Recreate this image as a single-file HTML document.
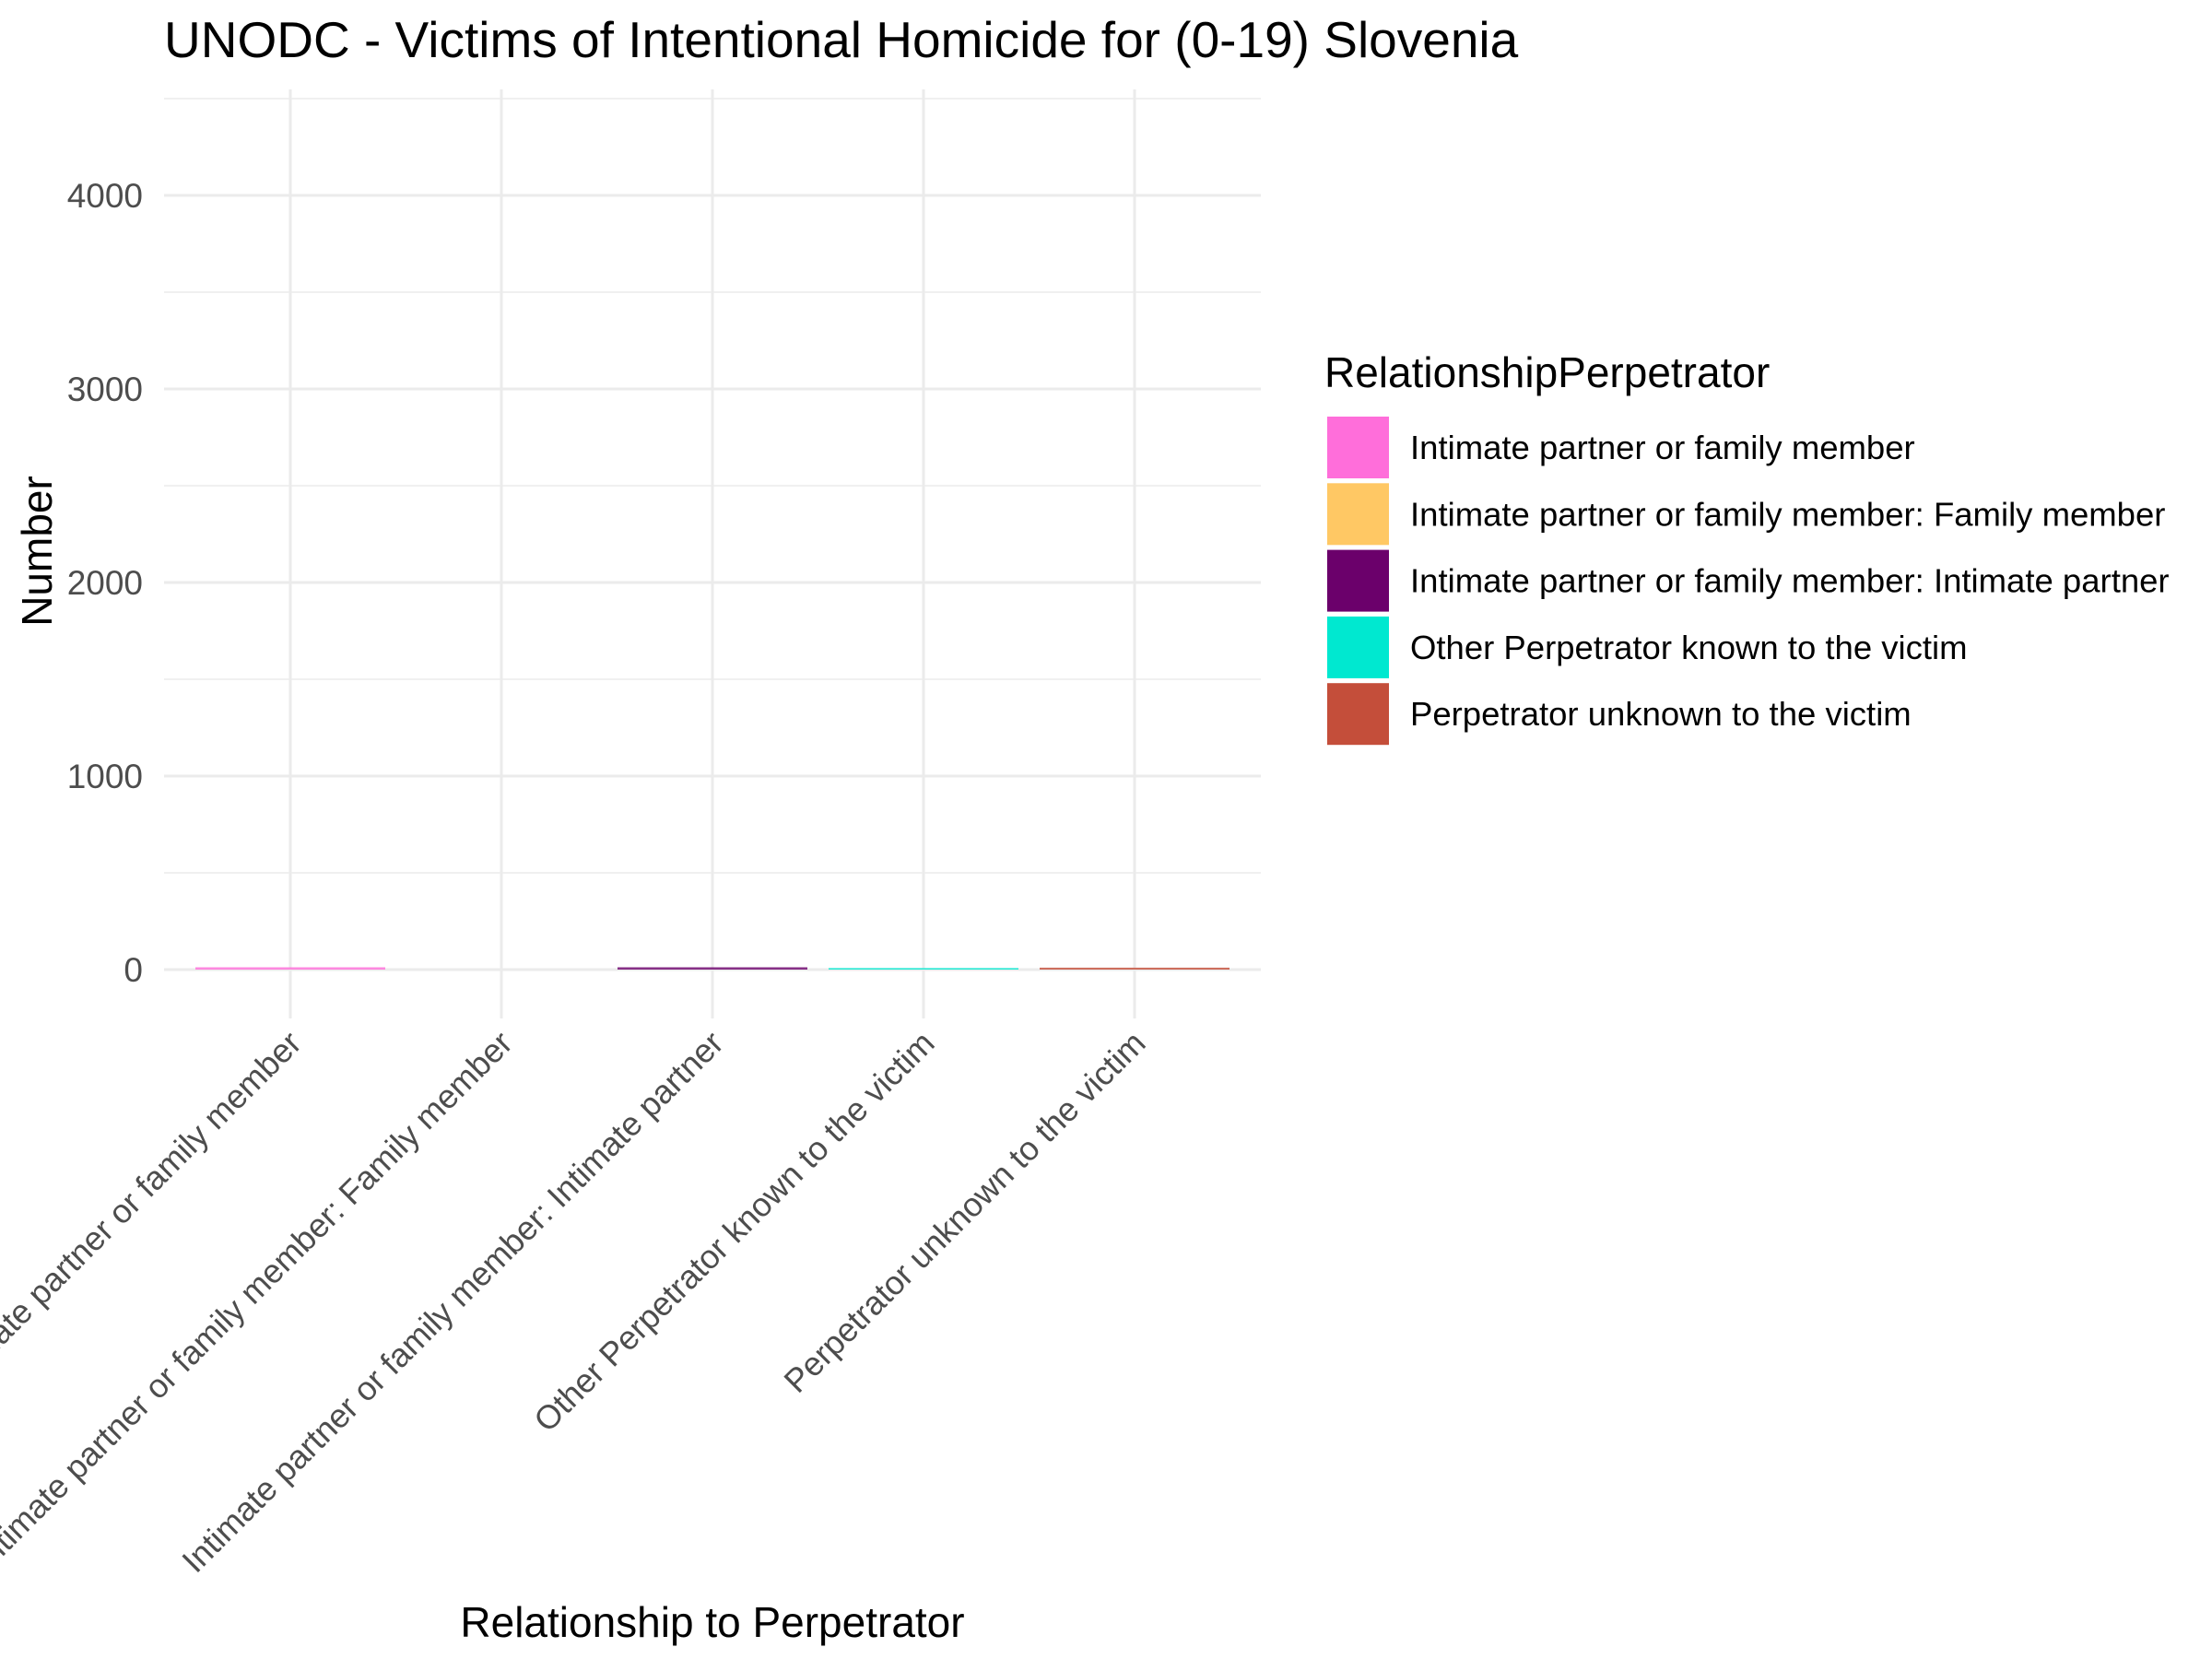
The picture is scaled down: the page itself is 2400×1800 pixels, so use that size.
<!DOCTYPE html>
<html><head><meta charset="utf-8"><style>
html,body{margin:0;padding:0;background:#fff;}
svg{display:block;font-family:"Liberation Sans",Arial,sans-serif;}
</style></head><body>
<svg id="chart" width="2400" height="1800" viewBox="0 0 2400 1800">
<text x="178" y="62" font-size="55" fill="#000">UNODC - Victims of Intentional Homicide for (0-19) Slovenia</text>
<g id="grid"></g>
<g id="bars"></g>
<g id="yticks"></g>
<g id="xticks"></g>
<text transform="translate(56,598) rotate(-90)" text-anchor="middle" font-size="46" fill="#000">Number</text>
<text x="773" y="1776" text-anchor="middle" font-size="46" fill="#000">Relationship to Perpetrator</text>
<g id="legend">
<text x="1437" y="420" font-size="46" fill="#000">RelationshipPerpetrator</text>
</g>
</svg>
<script>
const categories = ["Intimate partner or family member","Intimate partner or family member: Family member","Intimate partner or family member: Intimate partner","Other Perpetrator known to the victim","Perpetrator unknown to the victim"];
const values = [12, 0, 12, 8, 10];
const colors = ["#FF6EDA","#FFC864","#6B006B","#00E8D0","#C44E3A"];
const yTicks = [0, 1000, 2000, 3000, 4000];
const yMinor = [500, 1500, 2500, 3500, 4500];

const NS = "http://www.w3.org/2000/svg";
const plotLeft = 178, plotRight = 1368, plotTop = 97, plotBottom = 1105;
const y0 = 1052, pxPer = 210/1000;
const step = 229, firstX = 315;
function xPos(i){ return firstX + step*i; }
function yPos(v){ return y0 - v*pxPer; }
function mk(tag, attrs, parent){ const e=document.createElementNS(NS,tag); for(const k in attrs) e.setAttribute(k,attrs[k]); parent.appendChild(e); return e; }

const grid = document.getElementById('grid');
yMinor.forEach(v=>{ const l=mk('line',{x1:plotLeft,x2:plotRight,y1:yPos(v),y2:yPos(v),stroke:'#EBEBEB','stroke-width':1.4},grid);

 });
yTicks.forEach(v=>{ const l=mk('line',{x1:plotLeft,x2:plotRight,y1:yPos(v),y2:yPos(v),stroke:'#EBEBEB','stroke-width':3},grid);

 });
categories.forEach((c,i)=>{ const l=mk('line',{x1:xPos(i),x2:xPos(i),y1:plotTop,y2:plotBottom,stroke:'#EBEBEB','stroke-width':3},grid);

 });

const bars = document.getElementById('bars');
const bw = 206;
values.forEach((v,i)=>{ const h=Math.max(v*pxPer,0);
const r=mk('rect',{x:xPos(i)-bw/2,y:yPos(v),width:bw,height:h,fill:colors[i],'fill-opacity':0.8},bars);

 });

const yt = document.getElementById('yticks');
yTicks.forEach(v=>{ const t=mk('text',{x:155,y:yPos(v)+13,'text-anchor':'end','font-size':37,fill:'#4D4D4D'},yt); t.textContent=v;

 });

const xt = document.getElementById('xticks');
categories.forEach((c,i)=>{ const x=xPos(i)+14, y=1134;
const t=mk('text',{transform:`translate(${x},${y}) rotate(-45)`,'text-anchor':'end','font-size':36,fill:'#4D4D4D'},xt); t.textContent=c;

 });

const lg = document.getElementById('legend');
categories.forEach((c,i)=>{ const y=452+i*72.3;
const r=mk('rect',{x:1440,y:y,width:67,height:67,fill:colors[i]},lg);


const t=mk('text',{x:1530,y:y+46,'font-size':36.5,fill:'#000'},lg); t.textContent=c;

 });
</script>
</body></html>
